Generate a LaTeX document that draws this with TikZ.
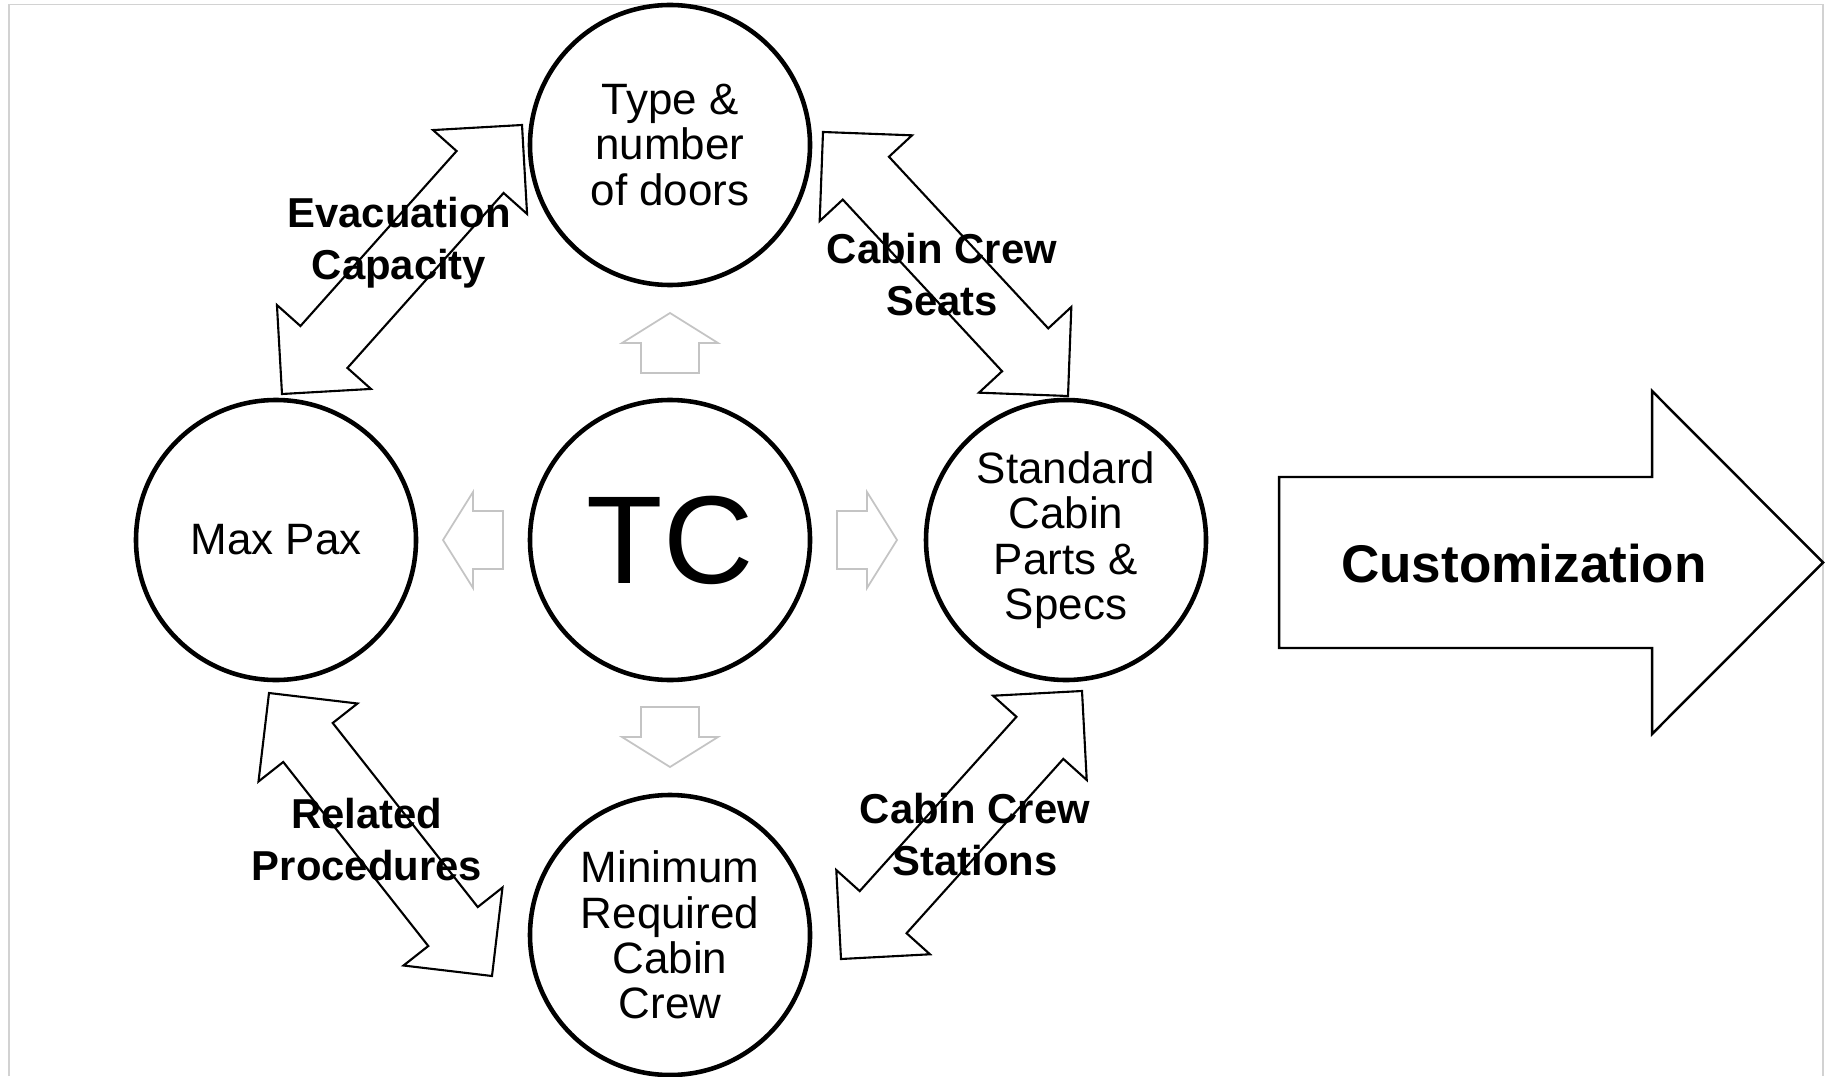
\documentclass[tikz,border=0pt]{standalone}
\usepackage{fontspec}
\setmainfont{Liberation Sans}
\usepackage{xcolor}
\usepackage{tikz}
\usetikzlibrary{calc}
\definecolor{Ink}{HTML}{000000}
\definecolor{Hint}{HTML}{C4C4C4}
\definecolor{Frame}{HTML}{D2D2D2}
\tikzset{
  bubble/.style={circle, draw=Ink, line width=1.3pt, minimum size=2.80cm, inner sep=0pt,
    align=center, font=\fontsize{12.5}{12.9}\selectfont},
  twoway/.style={draw=Ink, fill=white, line width=0.6pt, line join=miter},
  hint/.style={draw=Hint, fill=white, line width=0.5pt},
  tag/.style={align=center, text=Ink, font=\bfseries\fontsize{11.9}{14.8}\selectfont},
  bigarrow/.style={draw=Ink, fill=white, line width=0.7pt},
  frame/.style={draw=Frame, line width=0.5pt},
}
% double arrow between two tips: head length = head half width = 0.63, shaft half width = 0.315
\newcommand{\twoway}[2]{%
  \draw[twoway] (#1)
    -- ($(#1)!0.63cm!(#2)!0.63cm!90:(#2)$)
    -- ($(#1)!0.63cm!(#2)!0.315cm!90:(#2)$)
    -- ($(#2)!0.63cm!(#1)!0.315cm!90:(#2)$)
    -- ($(#2)!0.63cm!(#1)!0.63cm!90:(#2)$)
    -- (#2)
    -- ($(#2)!0.63cm!(#1)!0.63cm!-90:(#2)$)
    -- ($(#2)!0.63cm!(#1)!0.315cm!-90:(#2)$)
    -- ($(#1)!0.63cm!(#2)!0.315cm!-90:(#2)$)
    -- ($(#1)!0.63cm!(#2)!0.63cm!-90:(#2)$)
    -- cycle;}
\begin{document}
\begin{tikzpicture}[scale=1.0]
  \useasboundingbox (0,0) rectangle (18.25,10.76);
  % page frame
  \draw[frame] (0.09,0) -- (0.09,10.715) -- (18.23,10.715) -- (18.23,0);

  % Circles
  \node[bubble] (tc) at (6.70,5.36) {\fontsize{35.6}{38}\selectfont TC};
  \node[bubble] (doors) at (6.70,9.31) {Type \&\\number\\of doors};
  \node[bubble] (maxpax) at (2.76,5.36) {Max Pax};
  \node[bubble] (specs) at (10.66,5.36) {Standard\\Cabin\\Parts \&\\Specs};
  \node[bubble] (crew) at (6.70,1.41) {Minimum\\Required\\Cabin\\Crew};

  % Faint arrows out of TC
  \foreach \ang in {0,90,180,270}
    \draw[hint, rotate around={\ang:(tc.center)}]
      ($(tc.center)+(1.67,0.29)$) -- ++(0.30,0) -- ++(0,0.19) -- ($(tc.center)+(2.27,0)$)
      -- ($(tc.center)+(1.97,-0.48)$) -- ++(0,0.19) -- ++(-0.30,0) -- cycle;

  % Double arrows between the outer circles
  \coordinate (evacA) at (5.22,9.51);
  \coordinate (evacB) at (2.82,6.82);
  \coordinate (seatsA) at (8.23,9.44);
  \coordinate (seatsB) at (10.68,6.80);
  \coordinate (procA) at (2.69,3.83);
  \coordinate (procB) at (4.92,1.00);
  \coordinate (stationsA) at (10.82,3.85);
  \coordinate (stationsB) at (8.41,1.17);
  \twoway{evacA}{evacB}
  \twoway{seatsA}{seatsB}
  \twoway{procA}{procB}
  \twoway{stationsA}{stationsB}

  \node[tag] (evac) at (3.99,8.33) {Evacuation\\Capacity};
  \node[tag] (seats) at (9.42,8.01) {Cabin Crew\\Seats};
  \node[tag] (proc) at (3.67,2.36) {Related\\Procedures};
  \node[tag] (stations) at (9.75,2.41) {Cabin Crew\\Stations};

  % Customization arrow
  \draw[bigarrow] (12.79,5.99) -- (16.52,5.99) -- (16.52,6.85) -- (18.23,5.135)
    -- (16.52,3.42) -- (16.52,4.28) -- (12.79,4.28) -- cycle;
  \node[font=\bfseries\fontsize{15.1}{18}\selectfont, text=Ink] (custom) at (15.24,5.12) {Customization};
\end{tikzpicture}
\end{document}
